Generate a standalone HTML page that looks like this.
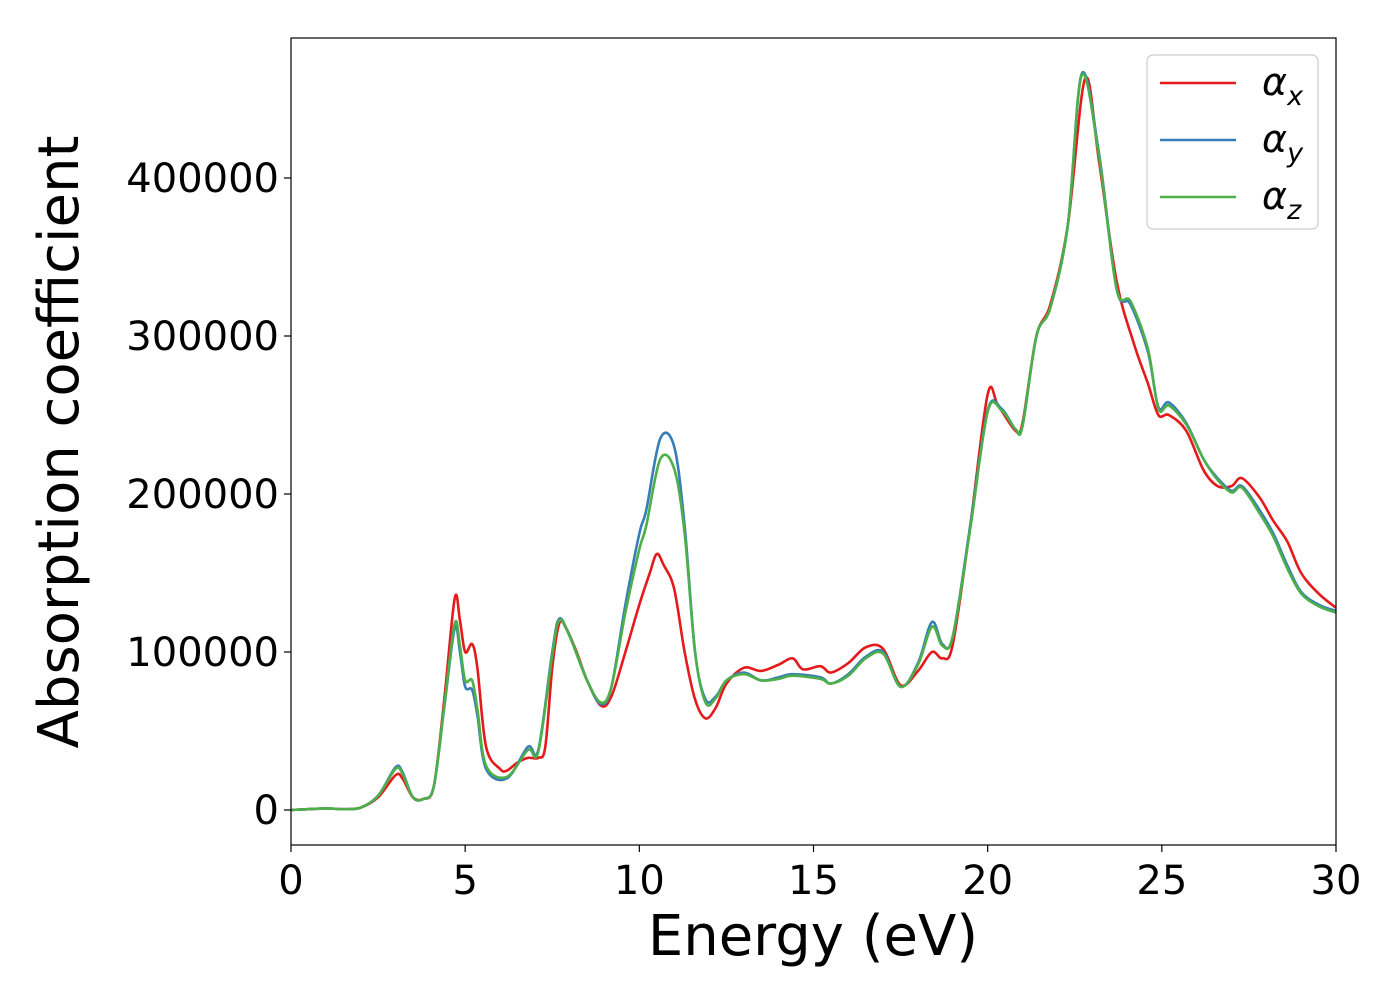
<!DOCTYPE html>
<html><head><meta charset="utf-8"><style>
html,body{margin:0;padding:0;background:#fff;}
svg{display:block;font-family:"DejaVu Sans","Liberation Sans",sans-serif;}
</style></head><body>
<svg id="chart" width="1400" height="1000" viewBox="0 0 1400 1000">
<g id="plot"></g>
</svg>
<script>
const energyX=[0,1,1.5,2,2.5,3,3.2,3.5,3.8,4.1,4.4,4.7,4.85,5.0,5.2,5.35,5.6,6.0,6.2,6.5,6.8,7.1,7.3,7.5,7.7,7.9,8.2,8.5,8.9,9.2,9.6,10.0,10.3,10.5,10.7,11.0,11.3,11.6,11.9,12.2,12.5,13,13.5,14,14.4,14.7,15.2,15.5,16,16.5,17,17.5,18,18.4,18.7,19,19.5,20,20.3,20.8,21,21.4,21.8,22.3,22.8,23.2,23.7,24.2,24.6,24.9,25.2,25.7,26.2,26.6,27,27.3,27.8,28.2,28.6,29,29.5,30];
const alphaXVals=[0,1000,500,1500,8000,22000,20000,8000,7000,15000,70000,134000,120000,100000,105000,90000,40000,26000,25000,30000,33000,33000,40000,90000,118000,115000,100000,82000,66000,72000,100000,130000,150000,162000,155000,140000,100000,70000,58000,65000,80000,90000,88000,92000,96000,89000,91000,87000,93000,103000,102000,79000,88000,100000,96000,105000,180000,263000,256000,240000,245000,300000,320000,370000,463000,410000,335000,295000,270000,250000,250000,240000,215000,205000,205000,210000,198000,183000,170000,150000,137000,128000];
const energyYZ=[0,1,1.5,2,2.5,3,3.2,3.5,3.8,4.1,4.4,4.7,4.85,5.0,5.2,5.35,5.6,6.2,6.8,7.1,7.5,7.7,8.0,8.5,8.9,9.2,9.6,10.0,10.2,10.6,11,11.3,11.6,11.9,12.2,12.5,13,13.5,14,14.4,15.2,15.5,16,16.5,17,17.5,18,18.4,18.7,19,19.5,20,20.4,20.8,21,21.4,21.8,22.3,22.7,23.2,23.7,24.1,24.6,24.9,25.2,25.7,26.2,26.6,27,27.3,27.8,28.2,28.6,29,29.5,30];
const alphaYVals=[0,1000,500,1500,9000,27000,24000,8000,7000,15000,65000,115000,100000,78000,76000,60000,26000,20000,40000,38000,100000,121000,110000,82000,67000,78000,130000,175000,190000,235000,230000,180000,100000,70000,72000,82000,87000,82000,84000,86000,84000,80000,86000,97000,100000,78000,93000,119000,105000,110000,180000,253000,254000,241000,243000,300000,318000,370000,466000,415000,330000,320000,290000,255000,258000,245000,222000,210000,202000,205000,190000,175000,155000,138000,130000,126000];
const alphaZVals=[0,1000,500,1500,9000,26000,23000,8000,7000,15000,66000,118000,104000,82000,82000,64000,28000,21000,38000,37000,98000,120000,110000,82000,68000,78000,125000,165000,180000,222000,216000,175000,100000,68000,71000,82000,86000,82000,83000,85000,83000,80000,85000,96000,99000,78000,92000,116000,104000,110000,178000,252000,253000,241000,243000,300000,318000,370000,465000,413000,330000,322000,292000,254000,256000,244000,222000,209000,201000,204000,188000,173000,153000,137000,129000,125000];
const xTicks=[0,5,10,15,20,25,30];
const yTicks=[0,100000,200000,300000,400000];
const L=291,R=1336,T=38,B=845;
const X=v=>L+(v-0)/30*(R-L);
const Y=v=>810-v*0.00158;
const ns="http://www.w3.org/2000/svg";
const g=document.getElementById('plot');
function mk(t,a){const e=document.createElementNS(ns,t);for(const k in a)e.setAttribute(k,a[k]);g.appendChild(e);return e;}
function path(xs,ys){const p=xs.map((x,i)=>[X(x),Y(ys[i])]);let d='M'+p[0][0]+','+p[0][1];
for(let i=0;i<p.length-1;i++){const p0=p[Math.max(0,i-1)],p1=p[i],p2=p[i+1],p3=p[Math.min(p.length-1,i+2)];
const c1=[p1[0]+(p2[0]-p0[0])/6,p1[1]+(p2[1]-p0[1])/6],c2=[p2[0]-(p3[0]-p1[0])/6,p2[1]-(p3[1]-p1[1])/6];
d+=' C'+c1.join(',')+' '+c2.join(',')+' '+p2.join(',');}return d;}
const defs=mk('clipPath',{id:'clip'});const cr=document.createElementNS(ns,'rect');cr.setAttribute('x',L);cr.setAttribute('y',T);cr.setAttribute('width',R-L);cr.setAttribute('height',B-T);defs.appendChild(cr);
const series=[['alpha-x-line',energyX,alphaXVals,'#e41a1c'],['alpha-y-line',energyYZ,alphaYVals,'#377eb8'],['alpha-z-line',energyYZ,alphaZVals,'#4daf4a']];
series.forEach(s=>{const e=mk('path',{d:path(s[1],s[2]),fill:'none',stroke:s[3],'stroke-width':2.6,'clip-path':'url(#clip)'});

});
const fr=mk('rect',{x:L,y:T,width:R-L,height:B-T,fill:'none',stroke:'#000','stroke-width':1.2});


xTicks.forEach(v=>{mk('line',{x1:X(v),x2:X(v),y1:B,y2:B+7,stroke:'#000','stroke-width':1.2});
const t=mk('text',{x:X(v),y:B+49,'text-anchor':'middle','font-size':40});t.textContent=v;

});
yTicks.forEach(v=>{mk('line',{x1:L-7,x2:L,y1:Y(v),y2:Y(v),stroke:'#000','stroke-width':1.2});
const t=mk('text',{x:L-12,y:Y(v)+14,'text-anchor':'end','font-size':40});t.textContent=v;

});
const xt=mk('text',{x:813,y:955,'text-anchor':'middle','font-size':56});xt.textContent='Energy (eV)';


const yt=mk('text',{x:0,y:0,'text-anchor':'middle','font-size':56,transform:'translate(78,442) rotate(-90)'});yt.textContent='Absorption coefficient';


const lg=mk('rect',{x:1147,y:55,width:171,height:174,rx:6,fill:'#fff','fill-opacity':0.8,stroke:'#ccc','stroke-width':1.2});


[['x','#e41a1c',83],['y','#377eb8',140],['z','#4daf4a',197]].forEach(e=>{
mk('line',{x1:1160,x2:1236,y1:e[2],y2:e[2],stroke:e[1],'stroke-width':2.6});
const t=mk('text',{x:1262,y:e[2]+12,'font-size':38,'font-style':'italic'});
t.innerHTML='α<tspan font-size="27" dy="10">'+e[0]+'</tspan>';

});
</script>
</body></html>
